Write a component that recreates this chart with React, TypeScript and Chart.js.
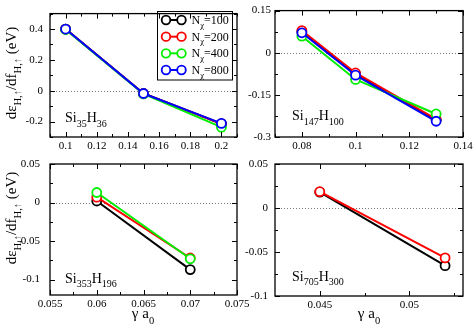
import React, { useEffect, useRef } from 'react';
import { Chart, registerables } from 'chart.js';

Chart.register(...registerables);

// ---------------- data ----------------
const SERIES_LABELS = ['100', '200', '400', '800'];
const SERIES_COLORS = ['#000000', '#ff0000', '#00ee00', '#0000ff'];

// Panel A : Si35H36
const A_X = [0.1, 0.15, 0.2];
const A_N100 = [0.4, -0.018, -0.215];
const A_N200 = [0.4, -0.018, -0.214];
const A_N400 = [0.397, -0.021, -0.236];
const A_N800 = [0.4, -0.018, -0.212];
const A_X_MAJOR = [0.1, 0.12, 0.14, 0.16, 0.18, 0.2];
const A_X_MINOR = [0.09, 0.11, 0.13, 0.15, 0.17, 0.19, 0.21];
const A_Y_MAJOR = [-0.2, 0, 0.2, 0.4];
const A_Y_MINOR = [-0.3, -0.1, 0.1, 0.3, 0.5];
const A_LABEL = ['Si', '35', 'H', '36'];

// Panel B : Si147H100
const B_X = [0.08, 0.1, 0.13];
const B_N100 = [0.075, -0.076, -0.24];
const B_N200 = [0.079, -0.072, -0.236];
const B_N400 = [0.059, -0.095, -0.218];
const B_N800 = [0.071, -0.08, -0.244];
const B_X_MAJOR = [0.08, 0.1, 0.12, 0.14];
const B_X_MINOR = [0.07, 0.09, 0.11, 0.13];
const B_Y_MAJOR = [-0.3, -0.15, 0, 0.15];
const B_Y_MINOR = [-0.225, -0.075, 0.075];
const B_LABEL = ['Si', '147', 'H', '100'];

// Panel C : Si353H196
const C_X = [0.06, 0.07];
const C_N100 = [0.002, -0.087];
const C_N200 = [0.007, -0.072];
const C_N400 = [0.013, -0.073];
const C_X_MAJOR = [0.055, 0.06, 0.065, 0.07, 0.075];
const C_X_MINOR = [0.0575, 0.0625, 0.0675, 0.0725];
const C_Y_MAJOR = [-0.1, -0.05, 0, 0.05];
const C_Y_MINOR = [-0.075, -0.025, 0.025];
const C_LABEL = ['Si', '353', 'H', '196'];

// Panel D : Si705H300
const D_X = [0.045, 0.052];
const D_N100 = [0.018, -0.0655];
const D_N200 = [0.0185, -0.0567];
const D_X_MAJOR = [0.045, 0.05];
const D_X_MINOR = [0.0475, 0.0525];
const D_Y_MAJOR = [-0.1, -0.05, 0, 0.05];
const D_Y_MINOR = [-0.075, -0.025, 0.025];
const D_LABEL = ['Si', '705', 'H', '300'];

// ---------------- layout ----------------
const CW = 520;
const CH = 360;
const YW = 45;
const XH = 22;
const SERIF = '"Liberation Serif", "Times New Roman", "DejaVu Serif", serif';

type Panel = {
  x: number[];
  series: (number[] | null)[];
  xMin: number; xMax: number; yMin: number; yMax: number;
  xMajor: number[]; xMinor: number[]; yMajor: number[]; yMinor: number[];
  area: { l: number; t: number; r: number; b: number };
  yPad: number;
  label: string[];
  labelPos: { x: number; y: number };
  yTitle?: { x: number; y: number };
  xTitle?: { x: number; y: number };
  legend?: boolean;
};

const PANELS: Panel[] = [
  {
    x: A_X, series: [A_N100, A_N200, A_N400, A_N800],
    xMin: 0.09, xMax: 0.21, yMin: -0.3, yMax: 0.5,
    xMajor: A_X_MAJOR, xMinor: A_X_MINOR, yMajor: A_Y_MAJOR, yMinor: A_Y_MINOR,
    area: { l: 50, t: 5, r: 237, b: 137 }, yPad: 7,
    label: A_LABEL, labelPos: { x: 65, y: 122 },
    yTitle: { x: 16, y: 73 }, legend: true,
  },
  {
    x: B_X, series: [B_N100, B_N200, B_N400, B_N800],
    xMin: 0.07, xMax: 0.14, yMin: -0.3, yMax: 0.15,
    xMajor: B_X_MAJOR, xMinor: B_X_MINOR, yMajor: B_Y_MAJOR, yMinor: B_Y_MINOR,
    area: { l: 275, t: 5, r: 463, b: 137 }, yPad: 4,
    label: B_LABEL, labelPos: { x: 292, y: 120 },
  },
  {
    x: C_X, series: [C_N100, C_N200, C_N400, null],
    xMin: 0.055, xMax: 0.075, yMin: -0.12, yMax: 0.05,
    xMajor: C_X_MAJOR, xMinor: C_X_MINOR, yMajor: C_Y_MAJOR, yMinor: C_Y_MINOR,
    area: { l: 50, t: 164, r: 237, b: 295 }, yPad: 10,
    label: C_LABEL, labelPos: { x: 65, y: 282.5 },
    yTitle: { x: 16, y: 218 }, xTitle: { x: 143, y: 318 },
  },
  {
    x: D_X, series: [D_N100, D_N200, null, null],
    xMin: 0.0425, xMax: 0.053, yMin: -0.1, yMax: 0.05,
    xMajor: D_X_MAJOR, xMinor: D_X_MINOR, yMajor: D_Y_MAJOR, yMinor: D_Y_MINOR,
    area: { l: 275, t: 164, r: 463, b: 296 }, yPad: 7,
    label: D_LABEL, labelPos: { x: 292, y: 280.5 },
    xTitle: { x: 369, y: 318 },
  },
];

const fmt = (v: number) => {
  const r = Math.round(v * 100000) / 100000;
  return r === 0 ? '0' : String(r);
};

type Part = [string, boolean];

function richWidth(ctx: CanvasRenderingContext2D, parts: Part[], size: number, subSize: number) {
  let w = 0;
  for (const [t, sub] of parts) {
    ctx.font = `${sub ? subSize : size}px ${SERIF}`;
    w += ctx.measureText(t).width;
  }
  return w;
}

function drawRich(
  ctx: CanvasRenderingContext2D, parts: Part[], x: number, y: number,
  size: number, subSize: number, subDy: number, align: 'left' | 'center'
) {
  const w = richWidth(ctx, parts, size, subSize);
  let cx = align === 'center' ? x - w / 2 : x;
  ctx.textAlign = 'left';
  ctx.textBaseline = 'alphabetic';
  ctx.fillStyle = '#000';
  for (const [t, sub] of parts) {
    ctx.font = `${sub ? subSize : size}px ${SERIF}`;
    ctx.fillText(t, cx, sub ? y + subDy : y);
    cx += ctx.measureText(t).width;
  }
}

function makePlugin(p: Panel) {
  return {
    id: 'panelDecor',
    beforeDatasetsDraw(chart: any) {
      const { ctx, chartArea } = chart;
      const y0 = chart.scales.y.getPixelForValue(0);
      ctx.save();
      ctx.strokeStyle = '#777';
      ctx.lineWidth = 1;
      ctx.setLineDash([1, 2]);
      ctx.beginPath();
      ctx.moveTo(chartArea.left, Math.round(y0) + 0.5);
      ctx.lineTo(chartArea.right, Math.round(y0) + 0.5);
      ctx.stroke();
      ctx.restore();
    },
    afterDatasetsDraw(chart: any) {
      const { ctx, chartArea } = chart;
      const xs = chart.scales.x;
      const ys = chart.scales.y;
      const { left, right, top, bottom } = chartArea;
      ctx.save();
      ctx.strokeStyle = '#000';
      ctx.lineWidth = 1.3;
      ctx.setLineDash([]);
      ctx.strokeRect(left, top, right - left, bottom - top);
      ctx.lineWidth = 1;
      ctx.beginPath();
      const xt = (vals: number[], len: number) => {
        for (const v of vals) {
          const px = Math.round(xs.getPixelForValue(v)) + 0.5;
          ctx.moveTo(px, bottom); ctx.lineTo(px, bottom - len);
          ctx.moveTo(px, top); ctx.lineTo(px, top + len);
        }
      };
      const yt = (vals: number[], len: number) => {
        for (const v of vals) {
          const py = Math.round(ys.getPixelForValue(v)) + 0.5;
          ctx.moveTo(left, py); ctx.lineTo(left + len, py);
          ctx.moveTo(right, py); ctx.lineTo(right - len, py);
        }
      };
      xt(p.xMajor, 5); xt(p.xMinor, 3); yt(p.yMajor, 5); yt(p.yMinor, 3);
      ctx.stroke();

      // panel label
      drawRich(ctx, [[p.label[0], false], [p.label[1], true], [p.label[2], false], [p.label[3], true]],
        p.labelPos.x, p.labelPos.y, 14, 10, 4.5, 'left');

      // y title
      if (p.yTitle) {
        ctx.save();
        ctx.translate(p.yTitle.x, p.yTitle.y);
        ctx.rotate(-Math.PI / 2);
        drawRich(ctx, [['d\u03b5', false], ['H,\u2191', true], ['/df', false], ['H,\u2191', true], [' (eV)', false]],
          0, 0, 15, 10.5, 4.5, 'center');
        ctx.restore();
      }
      // x title
      if (p.xTitle) {
        drawRich(ctx, [['\u03b3 a', false], ['0', true]], p.xTitle.x, p.xTitle.y, 15, 10.5, 5.5, 'center');
      }
      // legend
      if (p.legend) {
        ctx.lineWidth = 1;
        ctx.strokeStyle = '#000';
        ctx.strokeRect(157.5, 11.5, 75, 68.5);
        SERIES_LABELS.forEach((lab, i) => {
          const ly = 20 + i * 16.67;
          const c = SERIES_COLORS[i];
          ctx.strokeStyle = c;
          ctx.lineWidth = 2;
          ctx.beginPath();
          ctx.moveTo(166, ly); ctx.lineTo(181.5, ly);
          ctx.stroke();
          for (const cx of [166, 181.5]) {
            ctx.beginPath();
            ctx.arc(cx, ly, 4.3, 0, Math.PI * 2);
            ctx.fillStyle = '#fff';
            ctx.fill();
            ctx.lineWidth = 1.8;
            ctx.stroke();
          }
          drawRich(ctx, [['N', false], ['\u03c7', true], ['=' + lab, false]], 191.5, ly + 4, 12, 8.5, 3.5, 'left');
        });
      }
      ctx.restore();
    },
  };
}

function PanelChart({ p }: { p: Panel }) {
  const ref = useRef<HTMLCanvasElement>(null);
  useEffect(() => {
    const datasets = p.series
      .map((ys, i) =>
        ys
          ? {
              label: 'N=' + SERIES_LABELS[i],
              data: p.x.map((xv, j) => ({ x: xv, y: ys[j] })),
              borderColor: SERIES_COLORS[i],
              backgroundColor: '#ffffff',
              pointBackgroundColor: '#ffffff',
              pointBorderColor: SERIES_COLORS[i],
              pointRadius: 4.5,
              pointBorderWidth: 1.8,
              borderWidth: 2,
              tension: 0,
              order: 4 - i,
              clip: false as any,
            }
          : null
      )
      .filter(Boolean) as any[];

    const tickFont = { family: SERIF, size: 11 };
    const chart = new Chart(ref.current as HTMLCanvasElement, {
      type: 'line',
      data: { datasets },
      options: {
        responsive: false,
        animation: false,
        devicePixelRatio: 1,
        layout: {
          padding: {
            left: p.area.l - YW,
            top: p.area.t,
            right: CW - p.area.r,
            bottom: CH - p.area.b - XH,
          },
        },
        plugins: { legend: { display: false }, tooltip: { enabled: false } },
        scales: {
          x: {
            type: 'linear',
            position: 'bottom',
            min: p.xMin,
            max: p.xMax,
            afterBuildTicks: (s: any) => { s.ticks = p.xMajor.map((v) => ({ value: v })); },
            afterFit: (s: any) => { s.height = XH; },
            grid: { display: false, drawTicks: false },
            border: { display: false },
            ticks: {
              autoSkip: false, maxRotation: 0, minRotation: 0, padding: 3,
              color: '#000', font: tickFont,
              callback: (v: any) => fmt(Number(v)),
            },
          },
          y: {
            type: 'linear',
            position: 'left',
            min: p.yMin,
            max: p.yMax,
            afterBuildTicks: (s: any) => { s.ticks = p.yMajor.map((v) => ({ value: v })); },
            afterFit: (s: any) => { s.width = YW; },
            grid: { display: false, drawTicks: false },
            border: { display: false },
            ticks: {
              autoSkip: false, padding: p.yPad,
              color: '#000', font: tickFont,
              callback: (v: any) => fmt(Number(v)),
            },
          },
        },
      } as any,
      plugins: [makePlugin(p) as any],
    });
    return () => chart.destroy();
  }, [p]);
  return (
    <canvas
      ref={ref}
      width={CW}
      height={CH}
      style={{ position: 'absolute', left: 0, top: 0, width: CW, height: CH }}
    />
  );
}

export default function App() {
  return (
    <div
      style={{
        position: 'fixed', left: 0, top: 0, width: 474, height: 327,
        overflow: 'hidden', background: '#fff',
      }}
    >
      {PANELS.map((p, i) => (
        <PanelChart key={i} p={p} />
      ))}
    </div>
  );
}
